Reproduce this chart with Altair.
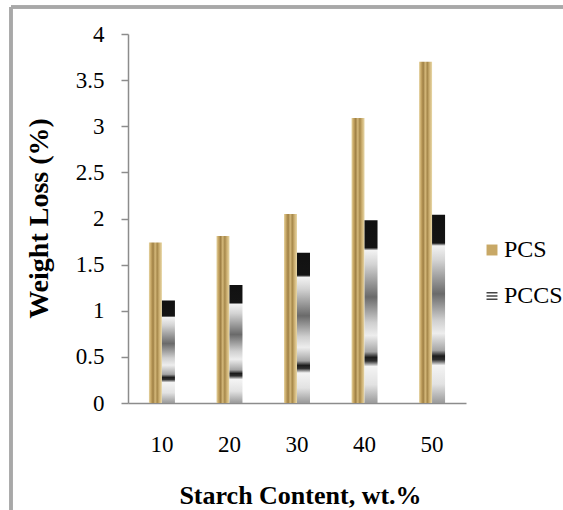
import altair as alt
import pandas as pd

contents = ["10", "20", "30", "40", "50"]
series_names = ["PCS", "PCCS"]
pcs_values = [1.74, 1.81, 2.05, 3.09, 3.70]
pccs_values = [1.11, 1.28, 1.63, 1.98, 2.04]
y_ticks = [0, 0.5, 1, 1.5, 2, 2.5, 3, 3.5, 4]

rows = []
for c, v in zip(contents, pcs_values):
    rows.append({"content": c, "series": "PCS", "value": v})
for c, v in zip(contents, pccs_values):
    rows.append({"content": c, "series": "PCCS", "value": v})
df = pd.DataFrame(rows)

FONT = "Liberation Serif, Times New Roman, DejaVu Serif, serif"

pcs_grad = alt.Gradient(
    gradient="linear", x1=0, x2=1, y1=0, y2=0,
    stops=[
        alt.GradientStop(color="#E6D4A2", offset=0),
        alt.GradientStop(color="#C8A866", offset=0.15),
        alt.GradientStop(color="#9E7F44", offset=0.32),
        alt.GradientStop(color="#D4B87A", offset=0.48),
        alt.GradientStop(color="#A6884B", offset=0.64),
        alt.GradientStop(color="#CDB072", offset=0.8),
        alt.GradientStop(color="#E8D8A8", offset=1),
    ],
)

pccs_grad = alt.Gradient(
    gradient="linear", x1=0, x2=0, y1=0, y2=1,
    stops=[
        alt.GradientStop(color="#111111", offset=0),
        alt.GradientStop(color="#141414", offset=0.15),
        alt.GradientStop(color="#F2F2F2", offset=0.165),
        alt.GradientStop(color="#D4D4D4", offset=0.24),
        alt.GradientStop(color="#6A6A6A", offset=0.42),
        alt.GradientStop(color="#CFCFCF", offset=0.56),
        alt.GradientStop(color="#EDEDED", offset=0.63),
        alt.GradientStop(color="#A5A5A5", offset=0.72),
        alt.GradientStop(color="#1C1C1C", offset=0.75),
        alt.GradientStop(color="#2E2E2E", offset=0.77),
        alt.GradientStop(color="#F4F4F4", offset=0.8),
        alt.GradientStop(color="#E2E2E2", offset=0.9),
        alt.GradientStop(color="#9A9A9A", offset=1),
    ],
)

x_enc = alt.X(
    "content:N",
    sort=contents,
    scale=alt.Scale(paddingInner=0.615, paddingOuter=0.31),
    axis=alt.Axis(
        title="Starch Content, wt.%",
        titleFont=FONT, titleFontSize=26, titleFontWeight="bold", titleColor="#000000",
        titleX=172, titleY=100, titleBaseline="alphabetic", titleAlign="center",
        labelFont=FONT, labelFontSize=23, labelColor="#000000", labelAngle=0,
        labelBaseline="alphabetic", labelPadding=48,
        ticks=False, tickSize=0,
        domainColor="#8C8C8C", domainWidth=1.5,
    ),
)
xoff_enc = alt.XOffset(
    "series:N",
    scale=alt.Scale(domain=series_names, paddingInner=0, paddingOuter=0),
)
y_enc = alt.Y(
    "value:Q",
    scale=alt.Scale(domain=[0, 4], nice=False),
    axis=alt.Axis(
        title="Weight Loss (%)",
        titleFont=FONT, titleFontSize=28, titleFontWeight="bold", titleColor="#000000",
        titleAngle=270, titleX=-89, titleY=184, titleAlign="center", titleBaseline="middle",
        values=y_ticks, format=".1~f",
        labelFont=FONT, labelFontSize=23, labelColor="#000000", labelPadding=17,
        tickSize=7, tickColor="#8C8C8C", tickWidth=1.5,
        domainColor="#8C8C8C", domainWidth=1.5, grid=False,
    ),
)

base = alt.Chart(df)

pcs_bars = base.transform_filter(alt.datum.series == "PCS").mark_bar(color=pcs_grad).encode(
    x=x_enc, xOffset=xoff_enc, y=y_enc
)
pccs_bars = base.transform_filter(alt.datum.series == "PCCS").mark_bar(color=pccs_grad).encode(
    x=x_enc, xOffset=xoff_enc, y=y_enc
)

legend_props = dict(
    title=None, orient="none", legendX=352, legendY=204,
    symbolSize=120, symbolOpacity=1, symbolStrokeColor="#9A8050", symbolStrokeWidth=0.8,
    labelFont=FONT, labelFontSize=24, labelColor="#000000", labelOffset=0,
    rowPadding=22, labelLimit=300,
)

eq_path = "M-1,-0.72H1V-0.46H-1Z M-1,-0.13H1V0.13H-1Z M-1,0.46H1V0.72H-1Z"

legend_layer = base.mark_point(filled=True, opacity=0).encode(
    x=x_enc, xOffset=xoff_enc, y=y_enc,
    color=alt.Color(
        "series:N",
        scale=alt.Scale(domain=series_names, range=["#C8A866", "#444444"]),
        legend=alt.Legend(**legend_props),
    ),
    shape=alt.Shape(
        "series:N",
        scale=alt.Scale(domain=series_names, range=["square", eq_path]),
        legend=alt.Legend(**legend_props),
    ),
)

frame_left = alt.Chart(df).mark_rule(color="#A8A8A8", strokeWidth=2.5).encode(
    x=alt.value(-117), y=alt.value(-27), y2=alt.value(480)
)
frame_top = alt.Chart(df).mark_rule(color="#A8A8A8", strokeWidth=2.5).encode(
    x=alt.value(-117), x2=alt.value(440), y=alt.value(-27)
)

chart = alt.layer(frame_left, frame_top, pcs_bars, pccs_bars, legend_layer).properties(
    width=338, height=369,
    autosize=alt.AutoSizeParams(type="none"),
    padding={"left": 128, "top": 34, "right": 97, "bottom": 107},
    background="#FFFFFF",
).configure_view(stroke=None)

chart.save("out.html", embed_options={"renderer": "svg", "actions": False})
